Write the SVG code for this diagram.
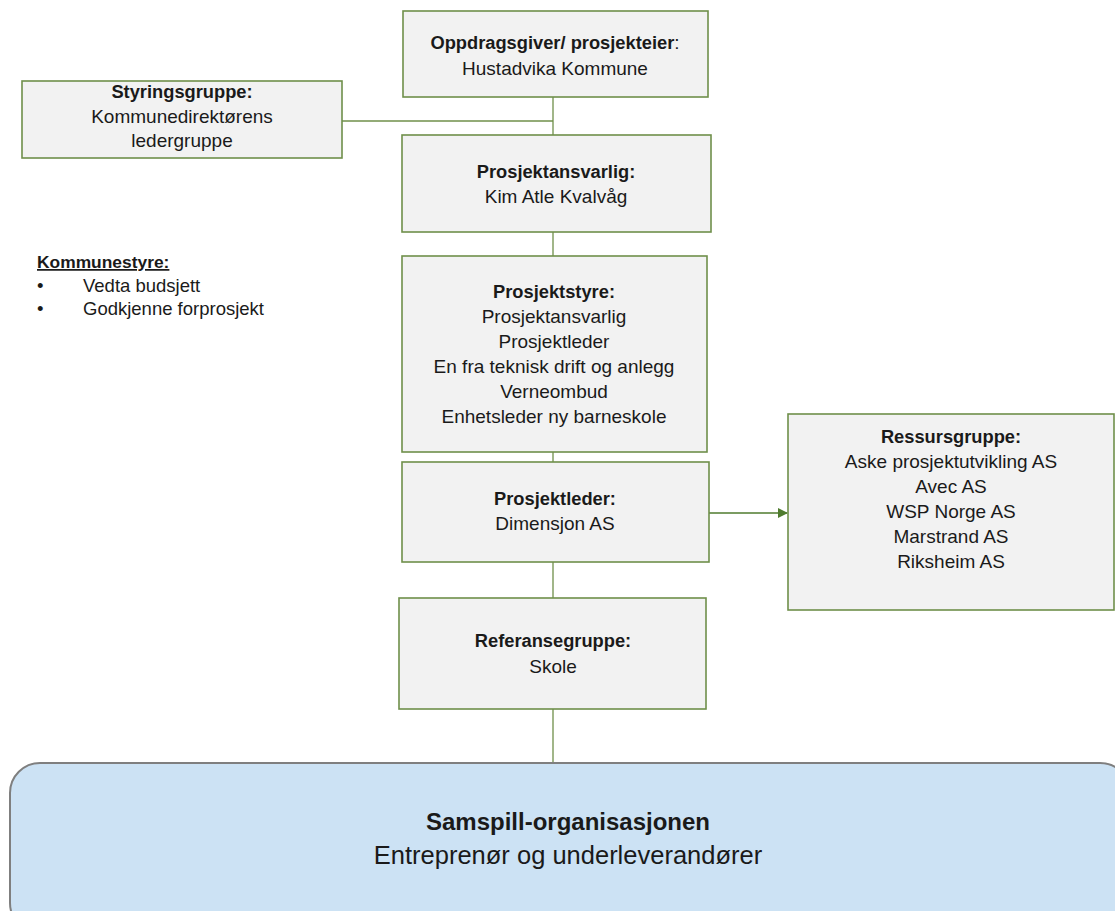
<svg xmlns="http://www.w3.org/2000/svg" width="1115" height="911" viewBox="0 0 1115 911">
<style>
.box{fill:#F2F2F2;stroke:#6F8F4A;stroke-width:1.6}
.t{font-family:"Liberation Sans",Arial,sans-serif;font-size:19px;fill:#1a1a1a;text-anchor:middle}
.b{font-weight:bold;font-size:18.3px}
.conn{stroke:#6F8F4A;stroke-width:1.3;fill:none}
.arrow{stroke:#4F7B2E;stroke-width:1.6;fill:none}
.k{font-family:"Liberation Sans",Arial,sans-serif;font-size:18.5px;fill:#1a1a1a}
.kb{font-weight:bold;font-size:17.4px;text-decoration:underline}
.sb{font-weight:bold;font-size:24px}
.sr{font-size:25.5px}
</style>
<defs>
<marker id="ah" markerWidth="10" markerHeight="10" refX="9" refY="5" orient="auto" markerUnits="userSpaceOnUse">
<path d="M0,0 L10,5 L0,10 Z" fill="#4F7B2E"/>
</marker>
</defs>
<rect width="1115" height="911" fill="#FFFFFF"/>
<g id="connectors">
<line class="conn" x1="553" y1="97" x2="553" y2="135"/>
<line class="conn" x1="342" y1="121" x2="553" y2="121"/>
<line class="conn" x1="553" y1="232" x2="553" y2="256"/>
<line class="conn" x1="553" y1="452" x2="553" y2="462"/>
<line class="conn" x1="553" y1="562" x2="553" y2="598"/>
<line class="conn" x1="553" y1="709" x2="553" y2="763"/>
<line class="arrow" x1="709" y1="513" x2="787" y2="513" marker-end="url(#ah)"/>
</g>
<g id="oppdragsgiver">
<rect class="box" x="403" y="11" width="305" height="86"/>
<text class="t" x="555" y="49"><tspan style="font-weight:bold;font-size:18.3px">Oppdragsgiver/ prosjekteier</tspan>:</text>
<text class="t" x="555" y="75">Hustadvika Kommune</text>
</g>
<g id="styringsgruppe">
<rect class="box" x="22" y="81" width="320" height="77"/>
<text class="t b" x="182" y="98">Styringsgruppe:</text>
<text class="t" x="182" y="123">Kommunedirektørens</text>
<text class="t" x="182" y="147">ledergruppe</text>
</g>
<g id="prosjektansvarlig">
<rect class="box" x="402" y="135" width="309" height="97"/>
<text class="t b" x="556" y="178">Prosjektansvarlig:</text>
<text class="t" x="556" y="203">Kim Atle Kvalvåg</text>
</g>
<g id="kommunestyre">
<text class="k kb" x="37" y="268">Kommunestyre:</text>
<text class="k" x="37" y="292">•</text>
<text class="k" x="83" y="292">Vedta budsjett</text>
<text class="k" x="37" y="315">•</text>
<text class="k" x="83" y="315">Godkjenne forprosjekt</text>
</g>
<g id="prosjektstyre">
<rect class="box" x="402" y="256" width="305" height="196"/>
<text class="t b" x="554" y="298">Prosjektstyre:</text>
<text class="t" x="554" y="323">Prosjektansvarlig</text>
<text class="t" x="554" y="348">Prosjektleder</text>
<text class="t" x="554" y="373">En fra teknisk drift og anlegg</text>
<text class="t" x="554" y="398">Verneombud</text>
<text class="t" x="554" y="423">Enhetsleder ny barneskole</text>
</g>
<g id="prosjektleder">
<rect class="box" x="402" y="462" width="307" height="100"/>
<text class="t b" x="555" y="505">Prosjektleder:</text>
<text class="t" x="555" y="530">Dimensjon AS</text>
</g>
<g id="ressursgruppe">
<rect class="box" x="788" y="414" width="326" height="196"/>
<text class="t b" x="951" y="443">Ressursgruppe:</text>
<text class="t" x="951" y="468">Aske prosjektutvikling AS</text>
<text class="t" x="951" y="493">Avec AS</text>
<text class="t" x="951" y="518">WSP Norge AS</text>
<text class="t" x="951" y="543">Marstrand AS</text>
<text class="t" x="951" y="568">Riksheim AS</text>
</g>
<g id="referansegruppe">
<rect class="box" x="399" y="598" width="307" height="111"/>
<text class="t b" x="553" y="647">Referansegruppe:</text>
<text class="t" x="553" y="673">Skole</text>
</g>
<g id="samspill">
<rect x="10" y="763" width="1120" height="170" rx="30" ry="30" fill="#CCE2F4" stroke="#7F7F7F" stroke-width="2"/>
<text class="t sb" x="568" y="830">Samspill-organisasjonen</text>
<text class="t sr" x="568" y="864">Entreprenør og underleverandører</text>
</g>
</svg>
